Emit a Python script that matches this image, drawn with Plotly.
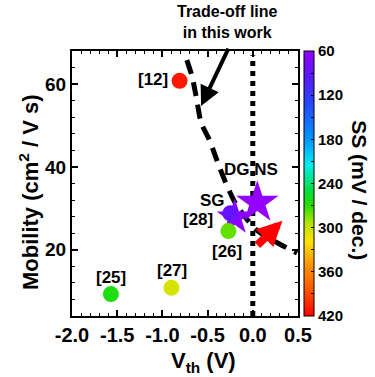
import plotly.graph_objects as go

# Reported devices: threshold voltage (V), mobility (cm^2/V s), subthreshold swing (mV/dec)
ref_labels = ["[12]", "[25]", "[27]", "[26]", "[28]"]
ref_vth = [-0.81, -1.57, -0.90, -0.27, -0.25]
ref_mob = [60.8, 9.3, 10.8, 24.5, 28.8]
ref_ss = [410, 265, 305, 280, 88]

# Devices from this work
work_labels = ["SG", "DG NS"]
work_vth = [-0.20, 0.05]
work_mob = [27.8, 31.4]
work_ss = [66, 62]
work_sizes = [27, 32]

# Trade-off line traced through this work
trade_vth = [-0.73, -0.67, -0.62, -0.57, -0.48, -0.37, -0.28, -0.18, 0.04, 0.32, 0.49]
trade_mob = [65.8, 61.7, 56.2, 50.6, 46.5, 40.0, 35.2, 30.8, 24.8, 21.1, 19.2]

# Label positions (data coordinates) for the points
ref_label_x = [-1.108, -1.570, -0.899, -0.282, -0.601]
ref_label_y = [61.2, 13.4, 14.9, 19.5, 27.2]
work_label_x = [-0.447, -0.018]
work_label_y = [32.0, 39.5]

# Axis ticks
vth_ticks = [-2.0, -1.5, -1.0, -0.5, 0.0, 0.5]
vth_tick_text = ["-2.0", "-1.5", "-1.0", "-0.5", "0.0", "0.5"]
mob_ticks = [20, 40, 60]
ss_ticks = [60, 120, 180, 240, 300, 360, 420]
ss_min, ss_max = 60, 420

FONT = "Liberation Sans, Arial, sans-serif"

# Rainbow scale from red (420) at the bottom to violet (60) at the top
ss_stops = [
    (420, "rgb(255,0,0)"),
    (385, "rgb(255,85,0)"),
    (350, "rgb(255,150,0)"),
    (320, "rgb(255,225,0)"),
    (295, "rgb(185,228,0)"),
    (270, "rgb(40,222,0)"),
    (248, "rgb(0,222,70)"),
    (215, "rgb(0,238,238)"),
    (180, "rgb(0,150,255)"),
    (130, "rgb(40,70,255)"),
    (95, "rgb(90,25,255)"),
    (60, "rgb(150,0,255)"),
]
colorscale = [[(ss_max - s) / (ss_max - ss_min), c] for s, c in ss_stops]
colorscale.sort(key=lambda p: p[0])

fig = go.Figure()

# Trade-off dashed curve
fig.add_trace(go.Scatter(
    x=trade_vth, y=trade_mob, mode="lines",
    line=dict(color="black", width=5, dash="14px,9px", shape="spline", smoothing=0.8),
    hoverinfo="skip", showlegend=False,
))

# Vth = 0 dotted guide
fig.add_trace(go.Scatter(
    x=[0, 0], y=[4, 67], mode="lines",
    line=dict(color="black", width=5, dash="5px,5px"),
    hoverinfo="skip", showlegend=False,
))

# Stars for this work (colour = -SS so that 420 sits at the bottom of the bar)
fig.add_trace(go.Scatter(
    x=work_vth, y=work_mob, mode="markers",
    marker=dict(symbol="star", size=work_sizes, color=[-s for s in work_ss],
                coloraxis="coloraxis", line=dict(width=0), opacity=1),
    showlegend=False,
))

# Circles for the reported devices
fig.add_trace(go.Scatter(
    x=ref_vth, y=ref_mob, mode="markers",
    marker=dict(symbol="circle", size=16, color=[-s for s in ref_ss],
                coloraxis="coloraxis", line=dict(width=0), opacity=1),
    showlegend=False,
))

annotations = []
for t, x, y in zip(ref_labels + work_labels, ref_label_x + work_label_x, ref_label_y + work_label_y):
    annotations.append(dict(x=x, y=y, xref="x", yref="y", text=t, showarrow=False,
                            xanchor="center", yanchor="middle",
                            font=dict(family=FONT, size=17, color="black", weight="bold")))

# Red arrow pointing up-right
annotations.append(dict(x=0.327, y=27.0, ax=0.034, ay=20.74, xref="x", yref="y",
                        axref="x", ayref="y", text="", showarrow=True,
                        arrowhead=2, arrowsize=0.62, arrowwidth=8, arrowcolor="rgb(255,0,0)"))

# Callout for the trade-off line
annotations.append(dict(x=-0.572, y=54.7, ax=28, ay=-59, xref="x", yref="y",
                        text="", showarrow=True, arrowhead=2, arrowsize=1.0,
                        arrowwidth=4, arrowcolor="black"))
annotations.append(dict(x=0.688, y=1.111, xref="paper", yref="paper",
                        xanchor="center", yanchor="middle",
                        text="Trade-off line<br>in this work", showarrow=False,
                        font=dict(family=FONT, size=16, color="black", weight="bold")))

# Axis titles
annotations.append(dict(x=0.58, y=-0.174, xref="paper", yref="paper",
                        xanchor="center", yanchor="middle",
                        text="V<sub>th</sub> (V)", showarrow=False,
                        font=dict(family=FONT, size=22, color="black", weight="bold")))
annotations.append(dict(x=-0.19, y=0.468, xref="paper", yref="paper", textangle=-90,
                        xanchor="center", yanchor="middle",
                        text="Mobility (cm<sup>2</sup> / V s)", showarrow=False,
                        font=dict(family=FONT, size=22, color="black", weight="bold")))
annotations.append(dict(x=1.274, y=0.475, xref="paper", yref="paper", textangle=90,
                        xanchor="center", yanchor="middle",
                        text="SS (mV / dec.)", showarrow=False,
                        font=dict(family=FONT, size=21, color="black", weight="bold")))

cb_vals = list(range(-ss_max, -ss_min + 1, 30))
cb_text = [str(-v) if (-v) in ss_ticks else "" for v in cb_vals]

fig.update_layout(
    width=375, height=377,
    margin=dict(l=72, r=77, t=51, b=61),
    paper_bgcolor="white", plot_bgcolor="white",
    font=dict(family=FONT, color="black"),
    annotations=annotations,
    coloraxis=dict(
        colorscale=colorscale, cmin=-ss_max, cmax=-ss_min,
        colorbar=dict(
            x=1.027, xanchor="left", y=0.5, yanchor="middle", len=1.0, lenmode="fraction",
            xpad=0, ypad=0, thickness=10, outlinewidth=1, outlinecolor="black",
            tickvals=cb_vals, ticktext=cb_text, ticks="inside", ticklen=3,
            tickcolor="black", tickwidth=1,
            tickfont=dict(family=FONT, size=15, color="black", weight="bold"),
        ),
    ),
    xaxis=dict(
        range=[-2.0, 0.5], tickvals=vth_ticks, ticktext=vth_tick_text,
        showgrid=False, zeroline=False, automargin=False,
        showline=True, linecolor="black", linewidth=2, mirror="ticks",
        ticks="inside", ticklen=6, tickwidth=2, tickcolor="black",
        minor=dict(tick0=0, dtick=0.1, ticks="inside", ticklen=3, tickwidth=1, tickcolor="black"),
        tickfont=dict(family=FONT, size=20, color="black", weight="bold"),
    ),
    yaxis=dict(
        range=[4, 68], tickvals=mob_ticks,
        showgrid=False, zeroline=False, automargin=False,
        showline=True, linecolor="black", linewidth=2, mirror="ticks",
        ticks="inside", ticklen=6, tickwidth=2, tickcolor="black",
        minor=dict(tick0=0, dtick=4, ticks="inside", ticklen=3, tickwidth=1, tickcolor="black"),
        tickfont=dict(family=FONT, size=19, color="black", weight="bold"),
    ),
)

fig.write_html("out.html")
